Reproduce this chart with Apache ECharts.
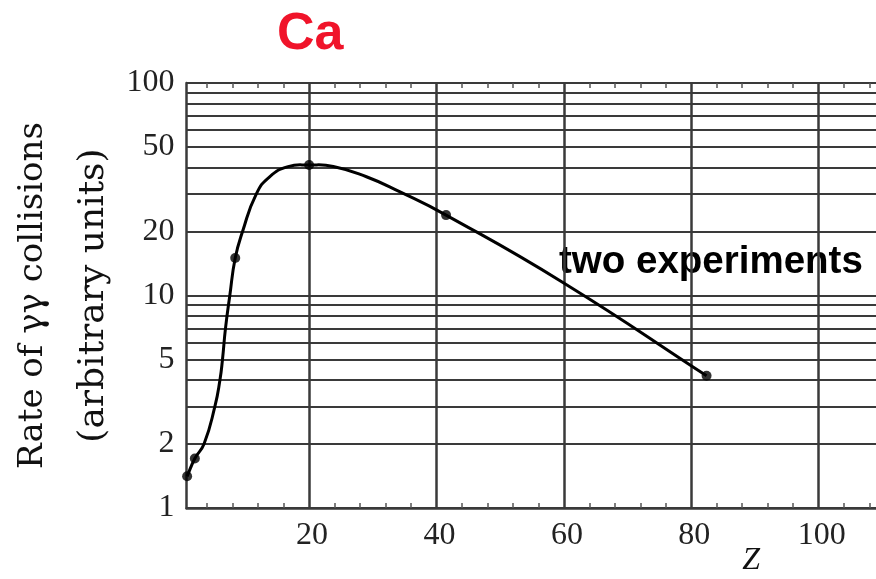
<!DOCTYPE html>
<html>
<head>
<meta charset="utf-8">
<script src="https://cdn.jsdelivr.net/npm/echarts@6/dist/echarts.min.js"></script>
<style>
html,body{margin:0;padding:0;background:#fff;}
#chart{width:876px;height:579px;}
</style>
</head>
<body>
<div id="chart"></div>
<script>
// ---- data ----
const curveZ    = [0.85, 2.06, 3.5, 5.2, 6.0, 6.4, 6.87, 7.55, 8.4, 9.55, 11.7, 13.8, 16.7, 20, 23.8, 29, 34.2, 41.5, 60.1, 82.4];
const curveRate = [1.41, 1.71, 2.0, 3.0, 4.0, 5.0, 7.0, 10, 15.0, 20, 30, 36.2, 40.4, 41.1, 40.5, 36.2, 30.8, 23.9, 11.4, 4.19];
const pointZ    = [0.85, 2.06, 8.4, 20, 41.5, 82.4];
const pointRate = [1.41, 1.71, 15.0, 41.1, 23.9, 4.19];
const xTickLabels = [20, 40, 60, 80, 100];
const xSmallTicks = [4, 8, 12, 16, 24, 28, 32, 36, 44, 48, 52, 56, 64, 68, 72, 76, 84, 88, 92, 96, 104, 108];
const yTickLabels = [1, 2, 5, 10, 20, 50, 100];
const yGridValues = [1, 2, 3, 4, 5, 6, 7, 8, 9, 10, 20, 30, 40, 50, 60, 70, 80, 90, 100];

const gridColor = '#3a3a3a';
const serif = "'DejaVu Serif', serif";
const times = "'Liberation Serif', serif";

// smooth cubic path through pixel points (neighbour-tangent bezier, no clamping)
function smoothPath(p, s) {
  const d = (a, b) => Math.hypot(b[0] - a[0], b[1] - a[1]);
  let str = 'M' + p[0][0] + ' ' + p[0][1];
  for (let i = 0; i < p.length - 1; i++) {
    const p0 = p[Math.max(i - 1, 0)], p1 = p[i], p2 = p[i + 1], p3 = p[Math.min(i + 2, p.length - 1)];
    const d01 = d(p0, p1), d12 = d(p1, p2), d23 = d(p2, p3);
    const r1 = (d01 + d12) ? d12 / (d01 + d12) : 0;
    const r2 = (d12 + d23) ? d12 / (d12 + d23) : 0;
    const c1 = [p1[0] + (p2[0] - p0[0]) * s * r1, p1[1] + (p2[1] - p0[1]) * s * r1];
    const c2 = [p2[0] - (p3[0] - p1[0]) * s * r2, p2[1] - (p3[1] - p1[1]) * s * r2];
    str += ' C' + c1[0] + ' ' + c1[1] + ' ' + c2[0] + ' ' + c2[1] + ' ' + p2[0] + ' ' + p2[1];
  }
  return str;
}

const chart = echarts.init(document.getElementById('chart'));
const xBase = {type: 'value', min: 0.75, max: 109, gridIndex: 0};
chart.setOption({
  backgroundColor: '#fff',
  animation: false,
  title: {
    text: 'Ca', left: 272, top: 4,
    textStyle: {color: '#f0142a', fontSize: 52, fontWeight: 'bold', fontFamily: "'Liberation Sans', Arial, sans-serif"}
  },
  grid: {left: 186.5, right: 0, top: 83, bottom: 71, containLabel: false, outerBoundsMode: 'none'},
  graphic: [{
    type: 'text', left: 559, top: 243,
    style: {text: 'two experiments', fill: '#000', font: "bold 38.5px 'Liberation Sans', Arial, sans-serif"}
  }],
  xAxis: [
    Object.assign({}, xBase, {
      position: 'bottom',
      name: 'Z', nameLocation: 'middle', nameGap: 37, nameMoveOverlap: false,
      nameTextStyle: {fontFamily: times, fontStyle: 'italic', fontSize: 32, color: '#111', padding: [0, 0, 0, 440]},
      axisLine: {show: true, onZero: false, lineStyle: {color: gridColor, width: 2.5}},
      axisTick: {show: true, inside: true, length: 5, customValues: xSmallTicks, lineStyle: {color: '#555', width: 1.5}},
      axisLabel: {customValues: xTickLabels, fontFamily: times, fontSize: 32, color: '#222', margin: 12, padding: [0, 0, 0, 6]},
      splitLine: {show: false}
    }),
    Object.assign({}, xBase, {
      position: 'top',
      axisLine: {show: false},
      axisTick: {show: true, inside: true, length: 5, customValues: xSmallTicks, lineStyle: {color: '#555', width: 1.5}},
      axisLabel: {show: false},
      splitLine: {show: false}
    }),
    Object.assign({}, xBase, {
      position: 'bottom',
      axisLine: {show: false},
      axisTick: {show: false, customValues: xTickLabels},
      axisLabel: {show: false},
      splitLine: {show: true, lineStyle: {color: gridColor, width: 2.5}}
    })
  ],
  yAxis: {
    type: 'log', logBase: 10, min: 1, max: 100,
    name: '{a|Rate of γγ collisions}\n{b|(arbitrary units)}',
    nameLocation: 'middle', nameGap: 63, nameMoveOverlap: false,
    nameTextStyle: {
      fontFamily: serif, color: '#111',
      rich: {
        a: {fontFamily: serif, fontSize: 34, lineHeight: 60, color: '#111'},
        b: {fontFamily: serif, fontSize: 36, lineHeight: 60, color: '#111'}
      }
    },
    axisLine: {show: true, onZero: false, lineStyle: {color: gridColor, width: 2.5}},
    axisTick: {show: false, customValues: yGridValues},
    axisLabel: {customValues: yTickLabels, fontFamily: times, fontSize: 32, color: '#222', margin: 12},
    splitLine: {show: true, lineStyle: {color: gridColor, width: 2.2}}
  },
  series: [
    {
      // smooth curve through the read points, positioned by the axes (api.coord)
      type: 'custom', name: 'curve', coordinateSystem: 'cartesian2d', xAxisIndex: 0, yAxisIndex: 0,
      data: curveZ.map((z, i) => [z, curveRate[i]]),
      renderItem: function (params, api) {
        if (params.dataIndex !== 0) return null;
        const pts = curveZ.map((z, i) => api.coord([z, curveRate[i]]));
        return {
          type: 'path',
          shape: {pathData: smoothPath(pts, 0.5)},
          style: {stroke: '#000', lineWidth: 3, fill: null}
        };
      },
      z: 5, silent: true
    },
    {
      type: 'scatter', name: 'points', xAxisIndex: 0,
      data: pointZ.map((z, i) => [z, pointRate[i]]),
      symbol: 'circle', symbolSize: 10,
      itemStyle: {color: '#000'}, z: 6
    }
  ]
});
</script>
</body>
</html>
